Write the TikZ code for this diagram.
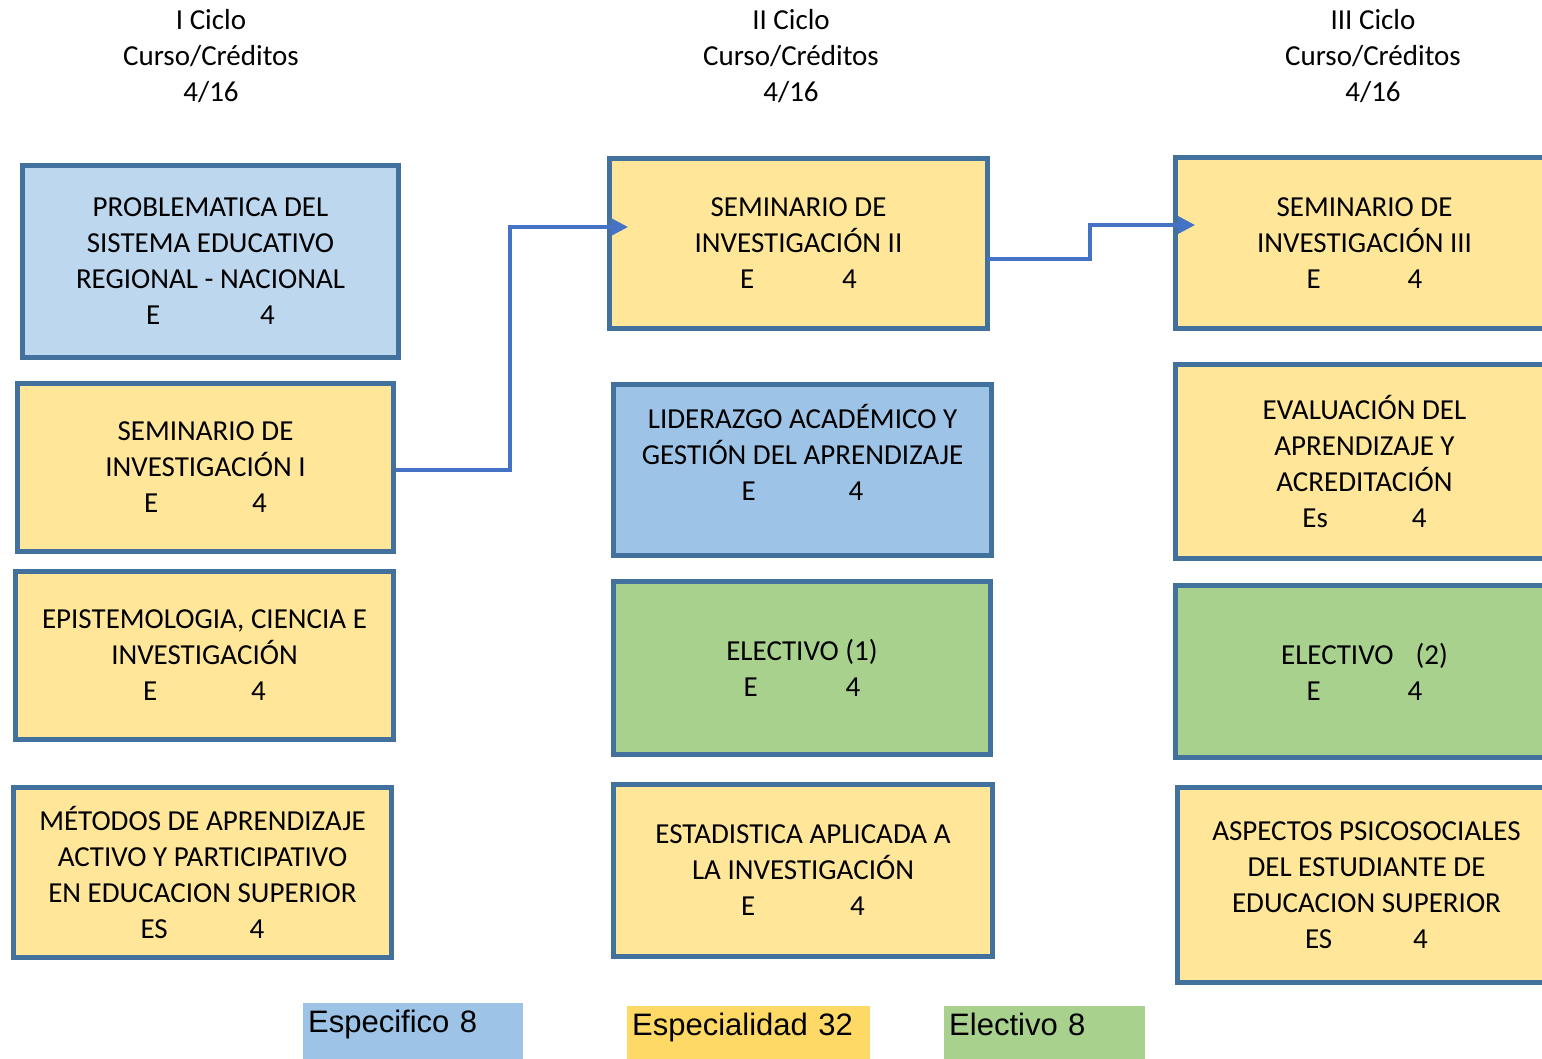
\documentclass[tikz,border=0pt]{standalone}
\usepackage{fontspec}
\setmainfont{Carlito}
\newfontfamily\legfont{Liberation Sans}
\usetikzlibrary{arrows.meta}
\definecolor{bordeblue}{HTML}{41719C}
\definecolor{lineblue}{HTML}{4472C4}
\definecolor{especif}{HTML}{BDD7EE}
\definecolor{especifb}{HTML}{9DC3E6}
\definecolor{especial}{HTML}{FFE699}
\definecolor{especialb}{HTML}{FFD966}
\definecolor{electivo}{HTML}{A9D18E}
\tikzset{
  curso/.style={draw=bordeblue, line width=5pt, rectangle, align=center,
    font=\fontsize{29}{36}\selectfont, inner sep=0pt},
  ciclo/.style={align=center, font=\fontsize{29}{36}\selectfont},
  leyenda/.style={anchor=north west, rectangle, inner xsep=5pt, inner ysep=6pt,
    text height=23pt, text depth=27pt, align=left, font=\legfont\fontsize{31}{34}\selectfont},
  link/.style={draw=lineblue, line width=3.5pt, -{Triangle[length=17pt,width=17pt]}}
}
\begin{document}
\begin{tikzpicture}[x=1pt,y=-1pt]
  \useasboundingbox (0,0) rectangle (1542,1058);
  \clip (0,0) rectangle (1542,1058);
  % ciclos
  \node[ciclo] (c1) at (211,56) {I Ciclo\\Curso/Créditos\\4/16};
  \node[ciclo] (c2) at (791,56) {II Ciclo\\Curso/Créditos\\4/16};
  \node[ciclo] (c3) at (1373,56) {III Ciclo\\Curso/Créditos\\4/16};
  % I ciclo
  \node[curso, fill=especif, minimum width=376, minimum height=192] (prob) at (210.5,261.5)
    {PROBLEMATICA DEL\\SISTEMA EDUCATIVO\\REGIONAL - NACIONAL\\E\hspace{100pt}4};
  \node[curso, fill=especial, minimum width=376, minimum height=168] (semi) at (205.5,467.5)
    {SEMINARIO DE\\INVESTIGACIÓN I\\E\hspace{94pt}4};
  \node[curso, fill=especial, minimum width=378, minimum height=168] (epis) at (204.5,655.5)
    {EPISTEMOLOGIA, CIENCIA E\\INVESTIGACIÓN\\E\hspace{94pt}4};
  \node[curso, fill=especial, minimum width=378, minimum height=170] (meto) at (202.5,872.5)
    {MÉTODOS DE APRENDIZAJE\\ACTIVO Y PARTICIPATIVO\\EN EDUCACION SUPERIOR\\ES\hspace{82pt}4};
  % II ciclo
  \node[curso, fill=especial, minimum width=378, minimum height=170] (semii) at (798.5,243.5)
    {SEMINARIO DE\\INVESTIGACIÓN II\\E\hspace{88pt}4};
  \node[curso, fill=especifb, minimum width=378, minimum height=171] (lide) at (802.5,470)
    {LIDERAZGO ACADÉMICO Y\\GESTIÓN DEL APRENDIZAJE\\E\hspace{93pt}4\\\mbox{}};
  \node[curso, fill=electivo, minimum width=377, minimum height=173] (elei) at (802,668)
    {ELECTIVO (1)\\E\hspace{88pt}4};
  \node[curso, fill=especial, minimum width=379, minimum height=172] (esta) at (803,870.5)
    {ESTADISTICA APLICADA A\\LA INVESTIGACIÓN\\E\hspace{95pt}4};
  % III ciclo
  \node[curso, fill=especial, minimum width=378, minimum height=171] (semiii) at (1364.5,243)
    {SEMINARIO DE\\INVESTIGACIÓN III\\E\hspace{87pt}4};
  \node[curso, fill=especial, minimum width=378, minimum height=194] (eval) at (1364.5,461.5)
    {EVALUACIÓN DEL\\APRENDIZAJE Y\\ACREDITACIÓN\\Es\hspace{84pt}4};
  \node[curso, fill=electivo, minimum width=378, minimum height=172] (eleii) at (1364.5,671.5)
    {ELECTIVO\hspace{22pt}(2)\\E\hspace{87pt}4};
  \node[curso, fill=especial, minimum width=378, minimum height=195] (aspe) at (1366.5,885)
    {ASPECTOS PSICOSOCIALES\\DEL ESTUDIANTE DE\\EDUCACION SUPERIOR\\ES\hspace{81pt}4};
  % flechas
  \coordinate (inii) at (628,227);
  \coordinate (outii) at (987,259);
  \coordinate (iniii) at (1195,225);
  \draw[link] (semi.east) ++(0,2.5) -- ++(114,0) |- (inii);
  \draw[link] (outii) -- ++(103,0) |- (iniii);
  % leyenda
  \node[leyenda, fill=especifb, text width=210pt] (lesp) at (303,1003) {Especifico 8};
  \node[leyenda, fill=especialb, text width=233pt] (lspc) at (627,1006) {Especialidad 32};
  \node[leyenda, fill=electivo, text width=191pt] (lele) at (944,1006) {Electivo 8};
\end{tikzpicture}
\end{document}
